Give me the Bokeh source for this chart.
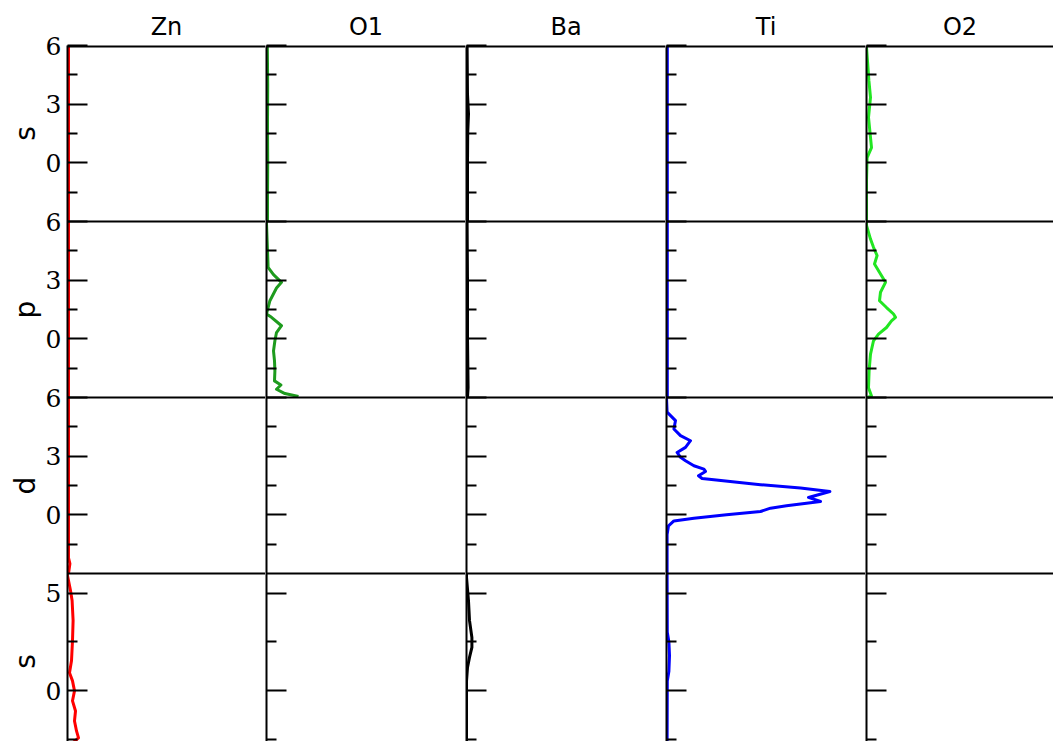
import numpy as np
from bokeh.plotting import figure
from bokeh.layouts import row
from bokeh.models import FixedTicker, Span, Range1d
from bokeh.embed import file_html
from bokeh.resources import INLINE

# ---------------- data ----------------
elements = ["Zn", "O1", "Ba", "Ti", "O2"]
orbitals = ["s", "p", "d", "s"]
line_colors = ["#ff0000", "#1e9b1e", "#000000", "#0000ff", "#22e622"]

row_major = [[6, 3, 0], [6, 3, 0], [6, 3, 0], [5, 0]]
row_minor = [[4.5, 1.5, -1.5], [4.5, 1.5, -1.5], [4.5, 1.5, -1.5], [2.5, -2.5]]
row_top_E = 6
row_span_E = 9

# Zn
zn_s_E = [6.0, -3.0]
zn_s_dos = [0.05, 0.05]
zn_p_E = [6.0, -3.0]
zn_p_dos = [0.05, 0.05]
zn_d_E = [6.0, 0.0, -2.2, -2.5, -3.0]
zn_d_dos = [0.05, 0.05, 0.05, 0.12, 0.05]
zn_s2_E = [6.0, 5.9, 5.13, 4.62, 3.59, 2.56, 1.54, 0.92, 0.51, 0.0, -0.51, -1.03, -1.54, -2.05, -2.41, -2.67, -2.82]
zn_s2_dos = [0.0, 0.0, 0.15, 0.23, 0.28, 0.25, 0.2, 0.1, 0.25, 0.35, 0.25, 0.4, 0.35, 0.45, 0.55, 0.25, 0.05]

# O1
o1_s_E = [6.0, 4.0, 2.0, 0.0, -2.0, -3.0]
o1_s_dos = [0.04, 0.06, 0.05, 0.06, 0.05, 0.05]
o1_p_E = [6.0, 5.9, 3.66, 3.28, 2.89, 2.6, 1.95, 1.27, 1.1, 0.67, 0.32, -0.1, -0.62, -1.13, -1.64, -2.15, -2.36, -2.58, -2.8, -2.95]
o1_p_dos = [0.0, 0.0, 0.08, 0.35, 0.75, 0.5, 0.17, 0.0, 0.25, 0.75, 0.5, 0.42, 0.35, 0.4, 0.42, 0.4, 0.72, 0.5, 0.92, 1.6]
o1_d_E = [6.0, -3.0]
o1_d_dos = [0.0, 0.0]
o1_s2_E = [6.0, -3.0]
o1_s2_dos = [0.0, 0.0]

# Ba
ba_s_E = [6.0, 3.5, 2.5, 1.5, 0.0, -3.0]
ba_s_dos = [0.03, 0.05, 0.1, 0.06, 0.05, 0.05]
ba_p_E = [6.0, 3.0, 0.0, -2.5, -3.0]
ba_p_dos = [0.03, 0.05, 0.05, 0.08, 0.05]
ba_d_E = [6.0, -3.0]
ba_d_dos = [0.0, 0.0]
ba_s2_E = [6.0, 5.8, 4.6, 3.6, 2.73, 2.22, 1.71, 1.19, 0.5, -3.0]
ba_s2_dos = [0.0, 0.0, 0.1, 0.15, 0.27, 0.27, 0.15, 0.05, 0.0, 0.0]

# Ti
ti_s_E = [6.0, -3.0]
ti_s_dos = [0.04, 0.04]
ti_p_E = [6.0, -3.0]
ti_p_dos = [0.04, 0.04]
ti_d_E = [6.0, 5.25, 4.82, 4.39, 4.05, 3.79, 3.45, 3.19, 2.94, 2.77, 2.51, 2.34, 2.22, 2.0, 1.86, 1.79,
          1.54, 1.37, 1.19, 0.89, 0.68, 0.46, 0.34, 0.17, 0.0, -0.17, -0.31, -0.56, -1.0, -3.0]
ti_d_dos = [0.0, 0.03, 0.45, 0.37, 0.7, 1.2, 0.95, 0.53, 0.7, 0.95, 1.37, 1.87, 1.95, 1.6, 1.78, 2.37,
            4.7, 6.7, 8.17, 7.1, 7.7, 6.0, 5.2, 4.7, 3.0, 1.37, 0.37, 0.1, 0.03, 0.03]
ti_s2_E = [6.0, 3.0, 2.5, 1.8, 1.0, 0.5, -3.0]
ti_s2_dos = [0.03, 0.04, 0.12, 0.15, 0.12, 0.04, 0.03]

# O2
o2_s_E = [6.0, 5.9, 4.2, 3.35, 2.32, 0.78, 0.27, -0.92, -3.0]
o2_s_dos = [0.0, 0.0, 0.12, 0.2, 0.1, 0.25, 0.03, 0.0, 0.0]
o2_p_E = [6.0, 5.8, 5.1, 4.68, 4.26, 3.83, 3.32, 2.89, 2.38, 1.95, 1.6, 1.27, 1.1, 0.92, 0.58, 0.24,
          -0.1, -0.78, -1.64, -2.5, -2.92, -3.0]
o2_p_dos = [0.0, 0.0, 0.2, 0.35, 0.53, 0.4, 0.7, 0.95, 0.7, 0.65, 1.0, 1.35, 1.45, 1.25, 1.0, 0.6,
            0.35, 0.2, 0.13, 0.1, 0.25, 0.05]
o2_d_E = [6.0, -3.0]
o2_d_dos = [0.0, 0.0]
o2_s2_E = [6.0, -3.0]
o2_s2_dos = [0.0, 0.0]

series = [
    [(zn_s_E, zn_s_dos), (zn_p_E, zn_p_dos), (zn_d_E, zn_d_dos), (zn_s2_E, zn_s2_dos)],
    [(o1_s_E, o1_s_dos), (o1_p_E, o1_p_dos), (o1_d_E, o1_d_dos), (o1_s2_E, o1_s2_dos)],
    [(ba_s_E, ba_s_dos), (ba_p_E, ba_p_dos), (ba_d_E, ba_d_dos), (ba_s2_E, ba_s2_dos)],
    [(ti_s_E, ti_s_dos), (ti_p_E, ti_p_dos), (ti_d_E, ti_d_dos), (ti_s2_E, ti_s2_dos)],
    [(o2_s_E, o2_s_dos), (o2_p_E, o2_p_dos), (o2_d_E, o2_d_dos), (o2_s2_E, o2_s2_dos)],
]

# ---------------- layout ----------------
label_frame_width = 42
first_frame_left = 67
inner_border = 1
frame_widths = [198, 199, 199, 199, 187]
top_border = 45
frame_height = 696
px_per_dos = 20.0
px_per_E = 176.0 / 9.0
nrows = len(orbitals)
offsets = [row_span_E * (nrows - 1 - r) for r in range(nrows)]
y_end = offsets[0] + row_top_E
y_start = y_end - frame_height / px_per_E

major_ticks, minor_ticks, overrides = [], [], {}
for r in range(nrows):
    for t in row_major[r]:
        major_ticks.append(offsets[r] + t)
        overrides[offsets[r] + t] = str(t)
    for t in row_minor[r]:
        minor_ticks.append(offsets[r] + t)

# left strip with the orbital names
lab = figure(
    frame_width=label_frame_width, frame_height=frame_height,
    x_range=Range1d(0, label_frame_width), y_range=Range1d(y_start, y_end),
    x_axis_location=None, y_axis_location=None, output_backend="svg", toolbar_location=None,
    min_border_left=0, min_border_right=0, min_border_top=top_border, min_border_bottom=0,
    outline_line_color=None, background_fill_color="white", border_fill_color="white",
)
lab.grid.visible = False
lab.text(x=[25] * nrows, y=[offsets[r] + 1.5 for r in range(nrows)], text=orbitals,
         angle=np.pi / 2, text_align="center", text_baseline="middle",
         text_font={"value": "DejaVu Sans"}, text_font_size="28px", text_color="black")

figs = [lab]
for ci, el in enumerate(elements):
    fw = frame_widths[ci]
    p = figure(
        frame_width=fw, frame_height=frame_height,
        x_range=Range1d(0, fw / px_per_dos), y_range=Range1d(y_start, y_end),
        x_axis_location=None, output_backend="svg", toolbar_location=None,
        title=el,
        min_border_left=(first_frame_left - label_frame_width) if ci == 0 else inner_border,
        min_border_right=0, min_border_top=top_border, min_border_bottom=0,
        outline_line_color=None, background_fill_color="white", border_fill_color="white",
    )
    p.grid.visible = False
    p.title.align = "center"
    p.title.text_font = "DejaVu Sans"
    p.title.text_font_size = "24px"
    p.title.text_font_style = "normal"
    p.title.text_color = "black"

    ax = p.yaxis[0]
    ax.ticker = FixedTicker(ticks=major_ticks, minor_ticks=minor_ticks)
    ax.major_tick_in = 20
    ax.major_tick_out = 0
    ax.minor_tick_in = 10
    ax.minor_tick_out = 0
    ax.axis_line_width = 2
    ax.major_tick_line_width = 2
    ax.minor_tick_line_width = 2
    ax.axis_line_color = "black"
    ax.major_tick_line_color = "black"
    ax.minor_tick_line_color = "black"
    if ci == 0:
        ax.major_label_overrides = overrides
        ax.major_label_text_font = "DejaVu Serif"
        ax.major_label_text_font_size = "25px"
        ax.major_label_text_color = "black"
        ax.major_label_standoff = 6
    else:
        ax.major_label_text_font_size = "0px"
        ax.major_label_text_color = None
        ax.major_label_standoff = 0

    for r in range(nrows):
        E, dos = series[ci][r]
        if max(dos) > 0:
            y = np.array(E) + offsets[r]
            p.line(dos, y, line_color=line_colors[ci], line_width=3, line_join="round")
        p.add_layout(Span(location=offsets[r] + row_top_E, dimension="width",
                          line_color="black", line_width=4 if r == 0 else 2))
    figs.append(p)

layout = row(*figs)
open("out.html", "w").write(file_html(layout, INLINE))
